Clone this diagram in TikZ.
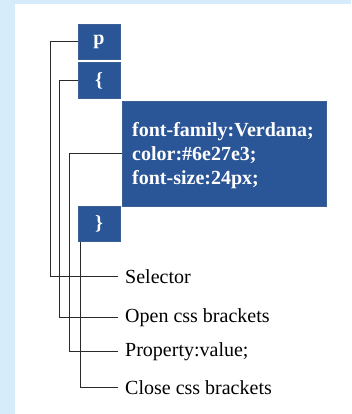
\documentclass[tikz,border=0pt]{standalone}
\usepackage{fontspec}
\setmainfont{Liberation Serif}
\definecolor{bgblue}{HTML}{D6ECFA}
\definecolor{boxblue}{HTML}{2A5597}
\definecolor{boxedge}{HTML}{3C5F95}
\definecolor{linegray}{HTML}{2A2A2A}
\begin{document}
\begin{tikzpicture}[x=1pt,y=-1pt,
  cssbox/.style={fill=boxblue,draw=boxedge,line width=0.6pt,text=white,
    font=\fontsize{20}{24}\selectfont\bfseries,inner sep=0pt},
  lbl/.style={anchor=west,inner sep=0pt,font=\fontsize{20}{24}\selectfont},
  conn/.style={draw=linegray,line width=1pt}]
\useasboundingbox (0,0) rectangle (351,414);
\fill[bgblue] (0,0) rectangle (351,414);
\fill[white] (15,4) rectangle (351,414);
% boxes
\node[cssbox,minimum width=42pt,minimum height=35pt] (p) at (99,41.5) {p};
\node[cssbox,minimum width=42pt,minimum height=36pt] (lb) at (99,80.5) {\{};
\node[cssbox,minimum width=204pt,minimum height=105pt] (props) at (224,153.5) {};
\node[anchor=west,inner sep=0pt,text=white,font=\fontsize{20}{24}\selectfont\bfseries,align=left] (propstext) at (132,155.5)
  {font-family:Verdana;\\color:\#6e27e3;\\font-size:24px;};
\node[cssbox,minimum width=42pt,minimum height=35pt] (rb) at (99,224) {\}};
% labels
\node[lbl] (sel) at (125,277) {Selector};
\node[lbl] (open) at (125,318) {Open css brackets};
\node[lbl] (prop) at (125,352) {Property:value;};
\node[lbl] (close) at (125,388) {Close css brackets};
\coordinate (selE) at (118,276);
\coordinate (openE) at (118,317);
\coordinate (propE) at (118,351);
\coordinate (closeE) at (118,387);
% connectors
\draw[conn] (p.west) -- (50,41.5) |- (selE);
\draw[conn] (lb.west) -- (59,80.5) |- (openE);
\draw[conn] (props.west) -- (69,153.5) |- (propE);
\draw[conn] (rb.south -| 80,0) |- (closeE);
\end{tikzpicture}
\end{document}
